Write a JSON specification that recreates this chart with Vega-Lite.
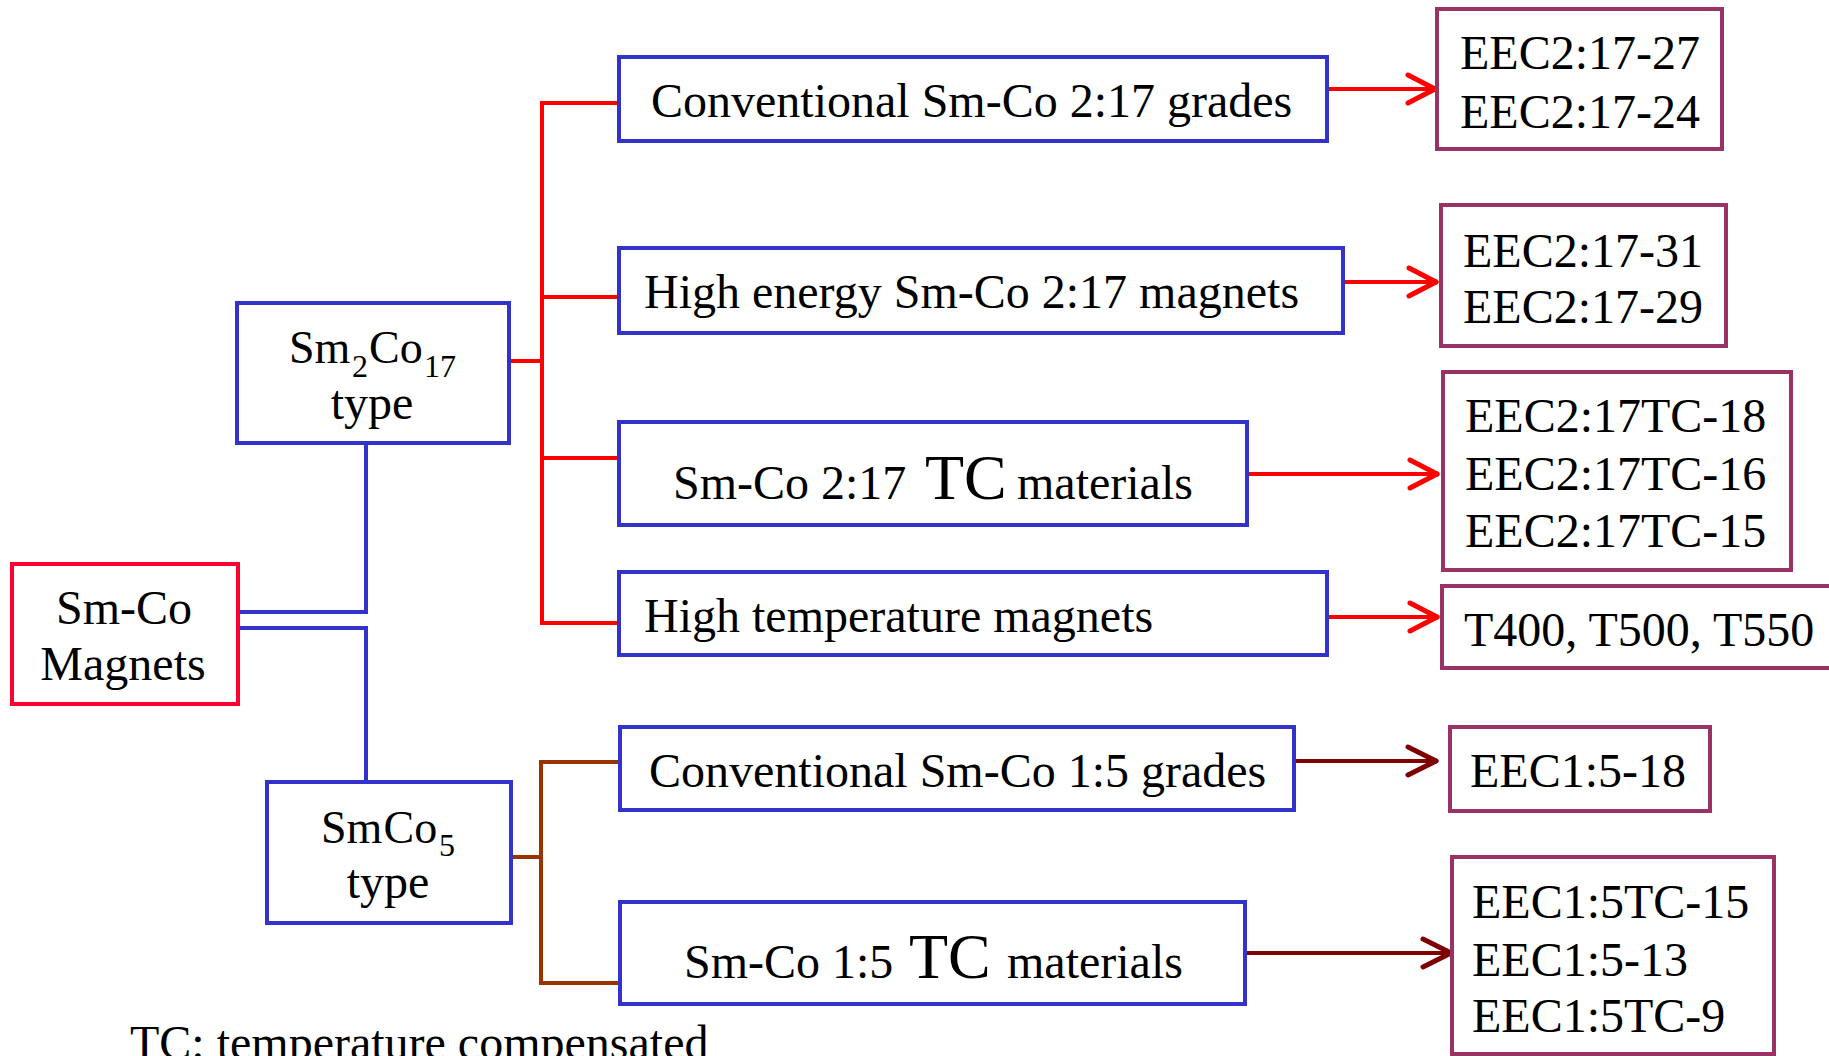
{
  "$schema": "https://vega.github.io/schema/vega-lite/v6.json",
  "width": 1829,
  "height": 1056,
  "autosize": {"type": "none"},
  "padding": 0,
  "background": "white",
  "config": {"view": {"stroke": null}},
  "datasets": {
    "boxes": [
      {"node": "Sm-Co Magnets", "tier": "root", "x0": 12, "x1": 238, "y0": 564, "y1": 704},
      {"node": "Sm2Co17 type", "tier": "class", "x0": 237, "x1": 509, "y0": 303, "y1": 443},
      {"node": "SmCo5 type", "tier": "class", "x0": 267, "x1": 511, "y0": 782, "y1": 923},
      {"node": "Conventional Sm-Co 2:17 grades", "tier": "class", "x0": 619, "x1": 1327, "y0": 57, "y1": 141},
      {"node": "High energy Sm-Co 2:17 magnets", "tier": "class", "x0": 619, "x1": 1343, "y0": 248, "y1": 333},
      {"node": "Sm-Co 2:17 TC materials", "tier": "class", "x0": 619, "x1": 1247, "y0": 422, "y1": 525},
      {"node": "High temperature magnets", "tier": "class", "x0": 619, "x1": 1327, "y0": 572, "y1": 655},
      {"node": "Conventional Sm-Co 1:5 grades", "tier": "class", "x0": 620, "x1": 1294, "y0": 727, "y1": 810},
      {"node": "Sm-Co 1:5 TC materials", "tier": "class", "x0": 620, "x1": 1245, "y0": 902, "y1": 1004},
      {"node": "EEC2:17-27 / 24", "tier": "grade", "x0": 1437, "x1": 1722, "y0": 9, "y1": 149},
      {"node": "EEC2:17-31 / 29", "tier": "grade", "x0": 1441, "x1": 1726, "y0": 205, "y1": 346},
      {"node": "EEC2:17TC-18 / 16 / 15", "tier": "grade", "x0": 1443, "x1": 1791, "y0": 372, "y1": 570},
      {"node": "T400, T500, T550", "tier": "grade", "x0": 1442, "x1": 1845, "y0": 586, "y1": 668},
      {"node": "EEC1:5-18", "tier": "grade", "x0": 1450, "x1": 1710, "y0": 727, "y1": 811},
      {"node": "EEC1:5TC-15 / 5-13 / 5TC-9", "tier": "grade", "x0": 1452, "x1": 1774, "y0": 857, "y1": 1054}
    ],
    "links": [
      {"tier": "root", "x0": 238, "x1": 366, "y0": 612, "y1": 612},
      {"tier": "root", "x0": 366, "x1": 366, "y0": 612, "y1": 443},
      {"tier": "root", "x0": 238, "x1": 366, "y0": 628, "y1": 628},
      {"tier": "root", "x0": 366, "x1": 366, "y0": 628, "y1": 782},
      {"tier": "2:17", "x0": 509, "x1": 542, "y0": 361, "y1": 361},
      {"tier": "2:17", "x0": 542, "x1": 542, "y0": 103, "y1": 623},
      {"tier": "2:17", "x0": 542, "x1": 619, "y0": 103, "y1": 103},
      {"tier": "2:17", "x0": 542, "x1": 619, "y0": 297, "y1": 297},
      {"tier": "2:17", "x0": 542, "x1": 619, "y0": 458, "y1": 458},
      {"tier": "2:17", "x0": 542, "x1": 619, "y0": 623, "y1": 623},
      {"tier": "1:5", "x0": 511, "x1": 541, "y0": 857, "y1": 857},
      {"tier": "1:5", "x0": 541, "x1": 541, "y0": 762, "y1": 983},
      {"tier": "1:5", "x0": 541, "x1": 620, "y0": 762, "y1": 762},
      {"tier": "1:5", "x0": 541, "x1": 620, "y0": 983, "y1": 983},
      {"tier": "2:17 arrow", "x0": 1327, "x1": 1434, "y0": 89, "y1": 89},
      {"tier": "2:17 arrow", "x0": 1343, "x1": 1435, "y0": 282, "y1": 282},
      {"tier": "2:17 arrow", "x0": 1247, "x1": 1436, "y0": 474, "y1": 474},
      {"tier": "2:17 arrow", "x0": 1327, "x1": 1436, "y0": 617, "y1": 617},
      {"tier": "1:5 arrow", "x0": 1294, "x1": 1435, "y0": 761, "y1": 761},
      {"tier": "1:5 arrow", "x0": 1245, "x1": 1450, "y0": 953, "y1": 953}
    ],
    "heads": [
      {"tier": "2:17 arrow", "x0": 1408, "x1": 1435, "y0": 75, "y1": 89},
      {"tier": "2:17 arrow", "x0": 1408, "x1": 1435, "y0": 103, "y1": 89},
      {"tier": "2:17 arrow", "x0": 1409, "x1": 1436, "y0": 268, "y1": 282},
      {"tier": "2:17 arrow", "x0": 1409, "x1": 1436, "y0": 296, "y1": 282},
      {"tier": "2:17 arrow", "x0": 1410, "x1": 1437, "y0": 460, "y1": 474},
      {"tier": "2:17 arrow", "x0": 1410, "x1": 1437, "y0": 488, "y1": 474},
      {"tier": "2:17 arrow", "x0": 1410, "x1": 1437, "y0": 603, "y1": 617},
      {"tier": "2:17 arrow", "x0": 1410, "x1": 1437, "y0": 631, "y1": 617},
      {"tier": "1:5 arrow", "x0": 1408, "x1": 1436, "y0": 747, "y1": 761},
      {"tier": "1:5 arrow", "x0": 1408, "x1": 1436, "y0": 775, "y1": 761},
      {"tier": "1:5 arrow", "x0": 1423, "x1": 1451, "y0": 939, "y1": 953},
      {"tier": "1:5 arrow", "x0": 1423, "x1": 1451, "y0": 967, "y1": 953}
    ],
    "centered": [
      {"label": "Sm-Co", "x": 124, "y": 624},
      {"label": "Magnets", "x": 123, "y": 680},
      {"label": "type", "x": 372, "y": 419},
      {"label": "type", "x": 388, "y": 898}
    ],
    "left": [
      {"label": "Sm", "style": "formula", "x": 289, "y": 363},
      {"label": "2", "style": "sub", "x": 352, "y": 377},
      {"label": "Co", "style": "formula", "x": 369, "y": 363},
      {"label": "17", "style": "sub", "x": 424, "y": 377},
      {"label": "Sm", "style": "formula", "x": 321, "y": 843},
      {"label": "Co", "style": "formula", "x": 383.5, "y": 843},
      {"label": "5", "style": "sub", "x": 439, "y": 856},
      {"label": "Conventional Sm-Co 2:17 grades", "style": "body", "x": 651, "y": 117},
      {"label": "High energy Sm-Co 2:17 magnets", "style": "body", "x": 644, "y": 308},
      {"label": "Sm-Co 2:17", "style": "body", "x": 673, "y": 499},
      {"label": "TC", "style": "TC", "x": 925, "y": 499},
      {"label": "materials", "style": "body", "x": 1017, "y": 499},
      {"label": "High temperature magnets", "style": "body", "x": 644, "y": 632},
      {"label": "Conventional Sm-Co 1:5 grades", "style": "body", "x": 649, "y": 787},
      {"label": "Sm-Co 1:5", "style": "body", "x": 684, "y": 978},
      {"label": "TC", "style": "TC", "x": 909, "y": 978},
      {"label": "materials", "style": "body", "x": 1007, "y": 978},
      {"label": "EEC2:17-27", "style": "body", "x": 1460, "y": 69},
      {"label": "EEC2:17-24", "style": "body", "x": 1460, "y": 128},
      {"label": "EEC2:17-31", "style": "body", "x": 1463, "y": 267},
      {"label": "EEC2:17-29", "style": "body", "x": 1463, "y": 323},
      {"label": "EEC2:17TC-18", "style": "body", "x": 1465, "y": 432},
      {"label": "EEC2:17TC-16", "style": "body", "x": 1465, "y": 490},
      {"label": "EEC2:17TC-15", "style": "body", "x": 1465, "y": 547},
      {"label": "T400, T500, T550", "style": "body", "x": 1464, "y": 646},
      {"label": "EEC1:5-18", "style": "body", "x": 1470, "y": 787},
      {"label": "EEC1:5TC-15", "style": "body", "x": 1472, "y": 918},
      {"label": "EEC1:5-13", "style": "body", "x": 1472, "y": 976},
      {"label": "EEC1:5TC-9", "style": "body", "x": 1472, "y": 1032},
      {"label": "TC: temperature compensated", "style": "body", "x": 130, "y": 1059}
    ]
  },
  "encoding": {
    "x": {"field": "x0", "type": "quantitative", "scale": {"domain": [0, 1829], "range": [0, 1829], "nice": false, "zero": false}, "axis": null},
    "y": {"field": "y0", "type": "quantitative", "scale": {"domain": [0, 1056], "range": [0, 1056], "nice": false, "zero": false}, "axis": null}
  },
  "layer": [
    {
      "data": {"name": "links"},
      "mark": {"type": "rule", "strokeWidth": 4, "strokeCap": "square"},
      "encoding": {
        "x2": {"field": "x1"},
        "y2": {"field": "y1"},
        "stroke": {"field": "tier", "type": "nominal", "legend": null,
          "scale": {"domain": ["root", "2:17", "1:5", "2:17 arrow", "1:5 arrow"], "range": ["#3333CC", "#FF0000", "#993300", "#FF0000", "#800000"]}}
      }
    },
    {
      "data": {"name": "heads"},
      "mark": {"type": "rule", "strokeWidth": 5, "strokeCap": "round"},
      "encoding": {
        "x2": {"field": "x1"},
        "y2": {"field": "y1"},
        "stroke": {"field": "tier", "type": "nominal", "legend": null,
          "scale": {"domain": ["root", "2:17", "1:5", "2:17 arrow", "1:5 arrow"], "range": ["#3333CC", "#FF0000", "#993300", "#FF0000", "#800000"]}}
      }
    },
    {
      "data": {"name": "boxes"},
      "mark": {"type": "rect", "fill": "white", "strokeWidth": 4},
      "encoding": {
        "x2": {"field": "x1"},
        "y2": {"field": "y1"},
        "stroke": {"field": "tier", "type": "nominal", "legend": null,
          "scale": {"domain": ["root", "class", "grade"], "range": ["#FF0033", "#3333CC", "#993366"]}}
      }
    },
    {
      "data": {"name": "centered"},
      "mark": {"type": "text", "font": "Liberation Serif", "fontSize": 48, "align": "center", "baseline": "alphabetic", "color": "black"},
      "encoding": {
        "x": {"field": "x", "type": "quantitative", "axis": null},
        "y": {"field": "y", "type": "quantitative", "axis": null},
        "text": {"field": "label"}
      }
    },
    {
      "data": {"name": "left"},
      "transform": [{"filter": "datum.style == 'body'"}],
      "mark": {"type": "text", "font": "Liberation Serif", "fontSize": 48, "align": "left", "baseline": "alphabetic", "color": "black"},
      "encoding": {
        "x": {"field": "x", "type": "quantitative", "axis": null},
        "y": {"field": "y", "type": "quantitative", "axis": null},
        "text": {"field": "label"}
      }
    },
    {
      "data": {"name": "left"},
      "transform": [{"filter": "datum.style == 'formula'"}],
      "mark": {"type": "text", "font": "Liberation Serif", "fontSize": 46, "align": "left", "baseline": "alphabetic", "color": "black"},
      "encoding": {
        "x": {"field": "x", "type": "quantitative", "axis": null},
        "y": {"field": "y", "type": "quantitative", "axis": null},
        "text": {"field": "label"}
      }
    },
    {
      "data": {"name": "left"},
      "transform": [{"filter": "datum.style == 'sub'"}],
      "mark": {"type": "text", "font": "Liberation Serif", "fontSize": 32, "align": "left", "baseline": "alphabetic", "color": "black"},
      "encoding": {
        "x": {"field": "x", "type": "quantitative", "axis": null},
        "y": {"field": "y", "type": "quantitative", "axis": null},
        "text": {"field": "label"}
      }
    },
    {
      "data": {"name": "left"},
      "transform": [{"filter": "datum.style == 'TC'"}],
      "mark": {"type": "text", "font": "Liberation Serif", "fontSize": 64, "align": "left", "baseline": "alphabetic", "color": "black"},
      "encoding": {
        "x": {"field": "x", "type": "quantitative", "axis": null},
        "y": {"field": "y", "type": "quantitative", "axis": null},
        "text": {"field": "label"}
      }
    }
  ],
  "resolve": {"scale": {"stroke": "independent"}}
}
